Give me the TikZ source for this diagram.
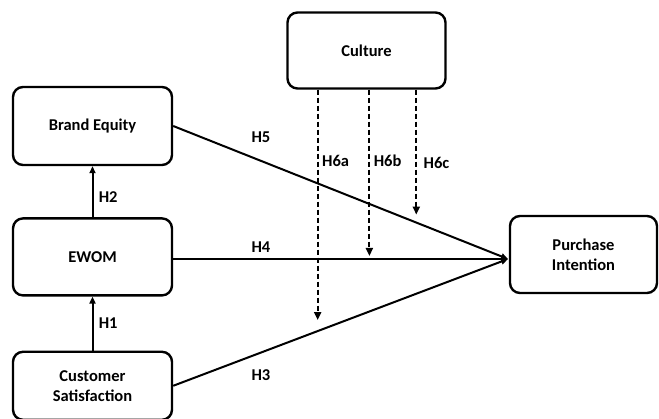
\documentclass[tikz,border=0pt]{standalone}
\usepackage{fontspec}
\setmainfont{Carlito}
\usetikzlibrary{positioning}
\usetikzlibrary{calc}
\usetikzlibrary{arrows.meta}
\tikzset{
  var/.style={draw, line width=2.4pt, rounded corners=10pt, align=center, font=\fontsize{16.5}{20}\selectfont\bfseries},
  path_arr/.style={line width=2pt, -{Triangle[length=7pt,width=6pt]}},
  mod_arr/.style={line width=2.2pt, dash pattern=on 5pt off 3pt, -{Triangle[length=8pt,width=7pt]}},
  hyp/.style={font=\fontsize{16.5}{20}\selectfont\bfseries}
}

\begin{document}
\begin{tikzpicture}[x=1pt, y=-1pt]
    \useasboundingbox (0,0) rectangle (659,419);
    %\draw [help lines] (0,0) grid (659,419);
    \node [var, minimum width=159pt, minimum height=78pt] (brand) at (92.5, 126) {Brand Equity};
    \node [var, minimum width=159pt, minimum height=77pt, below=51pt of brand] (ewom) {EWOM};
    \node [var, minimum width=159pt, minimum height=68pt, below=54pt of ewom] (cs) {Customer\\Satisfaction};
    \node [var, minimum width=158pt, minimum height=76pt] (culture) at (366.5, 50.5) {Culture};
    \node [var, minimum width=147pt, minimum height=77pt] (purchase) at (583.5, 254.5) {Purchase\\Intention};
    \coordinate (meet) at (508, 259);

    \draw [path_arr] (cs) -- (ewom) node [midway, right=2pt, hyp] {H1};
    \draw [path_arr] (ewom) -- (brand) node [pos=0.4, right=2pt, hyp] {H2};
    \draw [path_arr] (cs.east) -- (meet) coordinate [pos=0.4315] (h3_at) node [pos=0.262, below=13pt, hyp] {H3};
    \draw [path_arr] (ewom.east |- meet) -- (meet) coordinate [pos=0.586] (h4_at) node [pos=0.262, above=2pt, hyp] {H4};
    \draw [path_arr] (brand.east) -- (meet) coordinate [pos=0.726] (h5_at) node [pos=0.262, above=14pt, hyp] {H5};

    \draw [mod_arr, shorten >=11pt] (culture.south -| h3_at) -- (h3_at) node [pos=0.295, right=0pt, hyp] {H6a};
    \draw [mod_arr, shorten >=3pt] (culture.south -| h4_at) -- (h4_at) node [pos=0.42, right=0pt, hyp] {H6b};
    \draw [mod_arr, shorten >=8pt] (culture.south -| h5_at) -- (h5_at) node [pos=0.55, right=3pt, hyp] {H6c};

\end{tikzpicture}
\end{document}
